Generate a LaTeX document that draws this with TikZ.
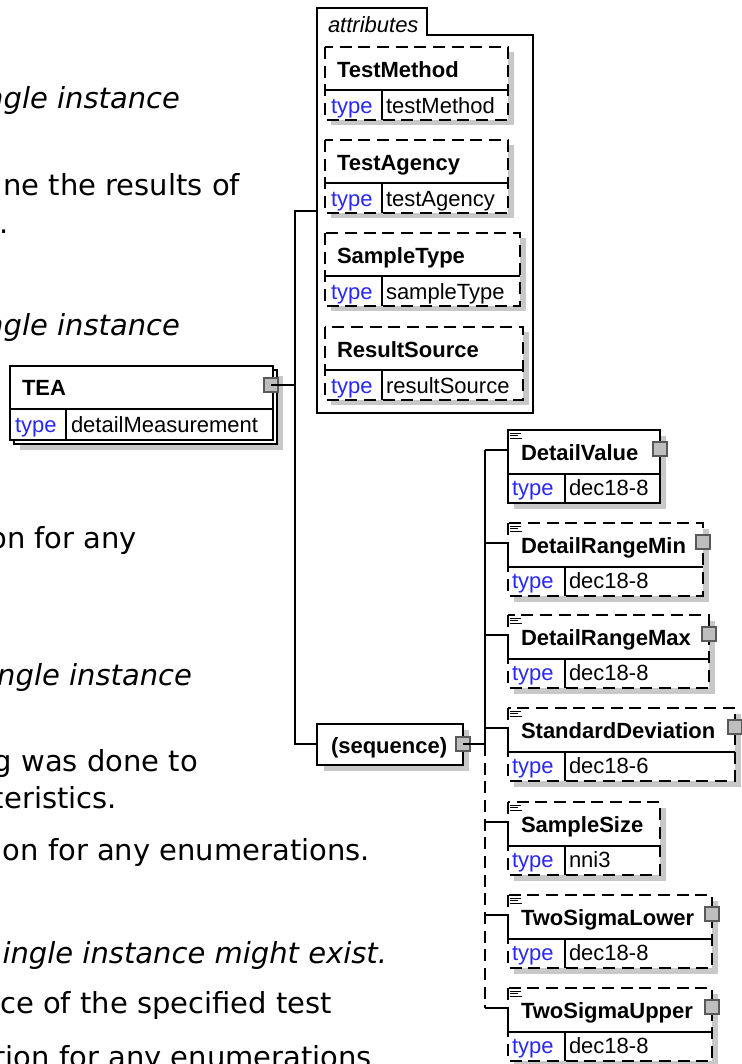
\documentclass[tikz,border=0pt]{standalone}
\usepackage{fontspec}
\setmainfont{Liberation Sans}
\newfontfamily\bodyfont{DejaVu Sans}[ItalicFont={DejaVu Sans Oblique}]
\definecolor{typeblue}{RGB}{40,40,250}
\definecolor{shadowgray}{RGB}{200,200,200}
\definecolor{expgray}{RGB}{190,190,190}
\begin{document}
\begin{tikzpicture}[x=0.75pt,y=-0.75pt,line width=1pt,
  every node/.style={inner sep=0pt,outer sep=0pt},
  nm/.style={font=\fontsize{16.5}{19}\selectfont\bfseries,anchor=base west},
  grp/.style={font=\fontsize{16.5}{19}\selectfont\itshape,anchor=base west},
  ty/.style={font=\fontsize{16.5}{19}\selectfont,text=typeblue,anchor=base west},
  vl/.style={font=\fontsize{16.5}{19}\selectfont,anchor=base west},
  txt/.style={font=\bodyfont\fontsize{21.75}{26}\selectfont,anchor=base east},
  txti/.style={font=\bodyfont\itshape\fontsize{21.75}{26}\selectfont,anchor=base east},
  shade/.style={fill=shadowgray},
  opt/.style={dash pattern=on 9pt off 5pt},
  sq/.style={draw=black!65,fill=expgray,line width=0.8pt},
  hid/.style={draw=none}]
  \useasboundingbox (0,0) rectangle (742,1064);
  \clip (0,0) rectangle (742,1064);
  \node[txti] (t1) at (180,108) {ngle instance};
  \node[txt] (t2) at (240,195) {ne the results of};
  \node[txt,anchor=base west] (t3) at (-1,233) {.};
  \node[txti] (t4) at (180,335) {ngle instance};
  \node[txt] (t5) at (137,548) {on for any};
  \node[txti] (t6) at (192,685) {ngle instance};
  \node[txt] (t7) at (198,771) {g was done to};
  \node[txt] (t8) at (117,808) {teristics.};
  \node[txt] (t9) at (370,860) {on for any enumerations.};
  \node[txti] (t10) at (387,963) {ingle instance might exist.};
  \node[txt] (t11) at (332,1013) {ce of the specified test};
  \node[txt] (t12) at (372,1067) {tion for any enumerations};

  \draw[fill=white] (317,413) -- (317,8) -- (427,8) -- (427,35) -- (533,35) -- (533,413) -- cycle;
  \node[grp] (attrs) at (328,32) {attributes};
  \foreach \t/\r/\n/\v [count=\i] in {47/508/TestMethod/testMethod,140/508/TestAgency/testAgency,
      233/520/SampleType/sampleType,327/523/ResultSource/resultSource}{
    \fill[shade] (331,\t+5) rectangle (\r+6,\t+78);
    \draw[opt,fill=white] (325,\t) rectangle (\r,\t+73);
    \draw (325,\t+43) -- (\r,\t+43) (382,\t+43) -- (382,\t+73);
    \node[nm] (a\i) at (337,\t+30) {\n};
    \node[ty] (at\i) at (331,\t+66) {type};
    \node[vl] (av\i) at (386,\t+66) {\v};
  }

  \fill[shade] (20,376) rectangle (283,450);
  \draw[fill=white] (14,370) rectangle (277,444);
  \draw[fill=white] (10,366) rectangle (273,440);
  \draw (10,409) -- (273,409) (66,409) -- (66,440);
  \node[nm] (tea) at (22,395) {TEA};
  \node[ty] (teat) at (15,432) {type};
  \node[vl] (teav) at (71,432) {detailMeasurement};
  \draw[sq] (264,378) rectangle (278,392);
  \coordinate (teaexp) at (271,385);

  \fill[shade] (324,730) rectangle (469,771);
  \draw[fill=white] (317,724) rectangle (463,765);
  \node[nm] (seq) at (331,753) {(sequence)};
  \draw[sq] (456,737) rectangle (470,751);
  \coordinate (seqexp) at (463,744);

  \coordinate (j1) at (295,211); \coordinate (j2) at (295,385); \coordinate (j3) at (295,744);
  \coordinate (attr) at (317,211); \coordinate (seqin) at (317,744);
  \draw (teaexp) -- (j2);
  \draw (attr) -- (j1) -- (j3) -- (seqin);

  \coordinate (k0) at (485,744); \coordinate (k1) at (485,450); \coordinate (k7) at (485,1008);
  \draw (seqexp) -- (k0);
  \draw (k1) -- (k0);
  \draw[opt] (k0) -- (k7);
  \foreach \t/\r/\n/\v/\d/\s [count=\i] in {430/660/DetailValue/dec18-8/solid/sq,
      523/703/DetailRangeMin/dec18-8/opt/sq,615/709/DetailRangeMax/dec18-8/opt/sq,
      708/735/StandardDeviation/dec18-6/opt/sq,802/660/SampleSize/nni3/opt/hid,
      895/712/TwoSigmaLower/dec18-8/opt/sq,988/712/TwoSigmaUpper/dec18-8/opt/sq}{
    \fill[shade] (514,\t+6) rectangle (\r+6,\t+79);
    \draw[\d,fill=white] (508,\t) rectangle (\r,\t+73);
    \draw (508,\t+44) -- (\r,\t+44) (565,\t+44) -- (565,\t+73);
    \draw (485,\t+20) -| (508,\t+44);
    \draw[line width=0.6pt] (510,\t+3) -- +(11,0) (510,\t+5.5) -- +(8,0) (510,\t+8) -- +(12,0);
    \node[nm] (c\i) at (521,\t+30) {\n};
    \node[ty] (ct\i) at (512,\t+65) {type};
    \node[vl] (cv\i) at (569,\t+65) {\v};
    \draw[\s] (\r-7,\t+12) rectangle (\r+7,\t+26);
  }
\end{tikzpicture}
\end{document}
